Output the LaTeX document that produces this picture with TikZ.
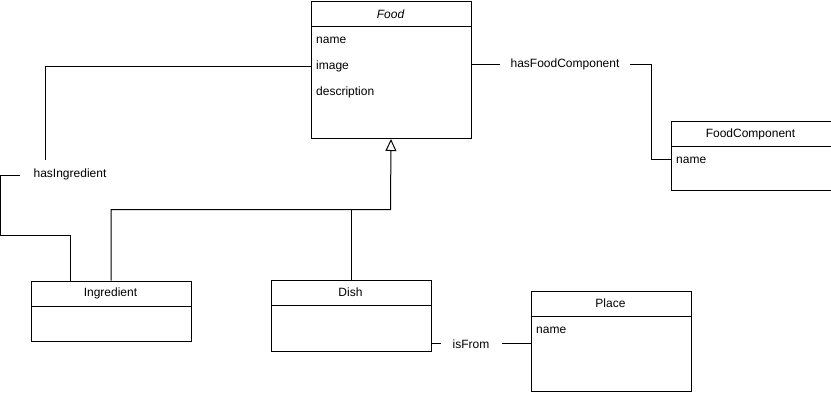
\documentclass[tikz,border=0pt]{standalone}
\usepackage{fontspec}
\setmainfont{Liberation Sans}
\usetikzlibrary{arrows.meta}
\begin{document}
\begin{tikzpicture}[x=1pt,y=-1pt,
  every node/.style={font=\fontsize{12}{14}\selectfont, inner sep=0pt},
  classbox/.style={draw, line width=1pt, anchor=north west, minimum width=160pt},
  title/.style={anchor=center},
  attr/.style={anchor=west},
  sep/.style={line width=1pt},
  link/.style={line width=1pt},
  inherit/.style={line width=1pt, -{Triangle[open,width=11pt,length=12pt,line width=1pt]}},
  role/.style={fill=white, minimum height=20pt}]
\useasboundingbox (0,0) rectangle (831,392);

% classes
\node[classbox, minimum height=137pt] (food) at (310.5,1) {};
\draw[sep] (310.5,26) -- (470.5,26);
\node[title] (foodT) at (390.5,14) {\itshape Food};
\node[attr] (foodA1) at (316,40.5) {name};
\node[attr] (foodA2) at (316,66.5) {image};
\node[attr] (foodA3) at (316,92.5) {description};

\node[classbox, minimum height=69.5pt] (comp) at (670.5,120.5) {};
\draw[sep] (670.5,146.5) -- (830.5,146.5);
\node[title] (compT) at (750.5,134) {FoodComponent};
\node[attr] (compA1) at (676,160) {name};

\node[classbox, minimum height=60pt] (ingr) at (30.5,280.5) {};
\draw[sep] (30.5,306) -- (190.5,306);
\node[title] (ingrT) at (110.5,293.5) {Ingredient};

\node[classbox, minimum height=71pt] (dish) at (270.5,279.5) {};
\draw[sep] (270.5,305) -- (430.5,305);
\node[title] (dishT) at (350.5,292.5) {Dish};

\node[classbox, minimum height=100pt] (place) at (530.5,290.5) {};
\draw[sep] (530.5,316) -- (690.5,316);
\node[title] (placeT) at (610.5,303.5) {Place};
\node[attr] (placeA1) at (536,330) {name};

% attachment points
\coordinate (foodL) at (310.5,66);
\coordinate (foodR) at (470.5,64);
\coordinate (compL) at (670.5,159.5);
\coordinate (dishR) at (430.5,343.5);
\coordinate (placeL) at (530.5,343.5);
\coordinate (gen) at (390.5,209.5);

% inheritance
\draw[inherit] (ingr.north) |- (gen) -- (food.south);
\draw[link] (dish.north) -- (dish.north |- gen);

% associations
\draw[link] (foodL) -- (45.5,66) -- (45.5,175.5) -- (0.5,175.5) -- (0.5,235.5) -- (70.5,235.5) -- (70.5,280.5);
\draw[link] (foodR) -- (651,64) -- (651,159.5) -- (compL);
\draw[link] (dishR) -- (placeL);

% role labels
\node[role, minimum width=100pt, minimum height=30pt] (lblIngr) at (70,174.5) {hasIngredient};
\node[role, minimum width=130pt] (lblComp) at (565,64) {hasFoodComponent};
\node[role, minimum width=61pt] (lblFrom) at (471,344) {isFrom};
\end{tikzpicture}
\end{document}
